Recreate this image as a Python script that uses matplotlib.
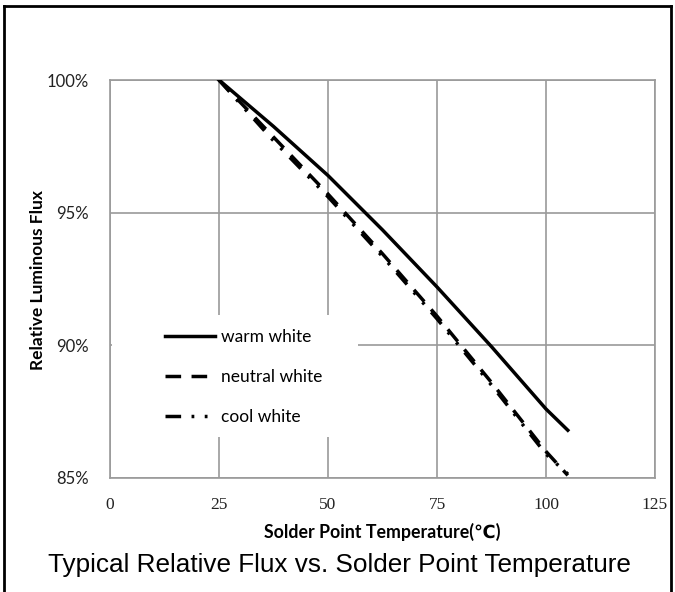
import matplotlib.pyplot as plt
from matplotlib.lines import Line2D
from matplotlib.patches import Rectangle

# --- data ---
warm_t = [25, 37.5, 50, 62.5, 75, 87.5, 100, 105]
warm_flux = [100, 98.25, 96.4, 94.35, 92.2, 89.95, 87.6, 86.8]

neutral_t = [25, 37.5, 50, 62.5, 75, 87.5, 100, 105]
neutral_flux = [100, 97.85, 95.7, 93.45, 91.1, 88.6, 86.0, 85.1]

cool_t = [25, 37, 50, 62.5, 75, 87.5, 100, 105]
cool_flux = [100, 97.8, 95.6, 93.35, 91.0, 88.5, 85.9, 85.15]

x_ticks = [0, 25, 50, 75, 100, 125]
y_ticks = [85, 90, 95, 100]
y_labels = ["85%", "90%", "95%", "100%"]
legend_labels = ["warm white", "neutral white", "cool white"]

calibri = ["Lato", "DejaVu Sans"]

fig = plt.figure(figsize=(6.75, 5.92), dpi=100)
ax = fig.add_axes([110 / 675, 114 / 592, 545 / 675, 398 / 592])

grid_col = "#9a9a9a"
ax.set_xlim(0, 125)
ax.set_ylim(85, 100)
ax.set_xticks(x_ticks)
ax.set_yticks(y_ticks)
ax.set_yticklabels(y_labels, family=calibri, fontsize=12, color="#222222")
ax.set_xticklabels([str(t) for t in x_ticks], family="Liberation Serif",
                   fontsize=12.5, color="#222222")
ax.tick_params(axis="both", length=0)
ax.tick_params(axis="y", pad=15)
ax.tick_params(axis="x", pad=14)
ax.grid(True, color=grid_col, linewidth=1.2)
for sp in ax.spines.values():
    sp.set_color(grid_col)
    sp.set_linewidth(1.2)

# white block behind the legend (hides the grid like the original)
ax.add_patch(Rectangle((0.003, 0.103), 0.452, 0.307, transform=ax.transAxes,
                       facecolor="white", edgecolor="none", zorder=2))

l1, = ax.plot(warm_t, warm_flux, color="black", lw=2.5, zorder=3)
l2, = ax.plot(neutral_t, neutral_flux, color="black", lw=2.5,
              dashes=(4.5, 3), zorder=3)
l3, = ax.plot(cool_t, cool_flux, color="black", lw=2.5,
              dashes=(4.5, 3, 0.8, 3, 0.8, 3), zorder=3)

leg = ax.legend([l1, l2, l3], legend_labels, loc="upper left",
                bbox_to_anchor=(0.1, 0.375), frameon=False,
                prop={"family": calibri, "size": 12.5},
                handlelength=2.9, handletextpad=0.35, labelspacing=1.4,
                borderaxespad=0, borderpad=0)
leg.set_zorder(4)

ax.set_xlabel("Solder Point Temperature(℃)", family=calibri, fontsize=12.8,
              fontweight="bold", labelpad=7)
ax.set_ylabel("Relative Luminous Flux", family=calibri, fontsize=12.5,
              fontweight="bold")
ax.yaxis.set_label_coords(-0.118, 0.497)

fig.text(0.503, 27 / 592, "Typical Relative Flux vs. Solder Point Temperature",
         ha="center", va="center", family="Liberation Sans", fontsize=18.8)

# outer frame
for xs, ys in [([4 / 675, 671 / 675], [586 / 592, 586 / 592]),
               ([4 / 675, 4 / 675], [0, 586 / 592]),
               ([671 / 675, 671 / 675], [0, 586 / 592])]:
    fig.add_artist(Line2D(xs, ys, color="black", lw=2, transform=fig.transFigure))

fig.savefig("out.png", dpi=100)
